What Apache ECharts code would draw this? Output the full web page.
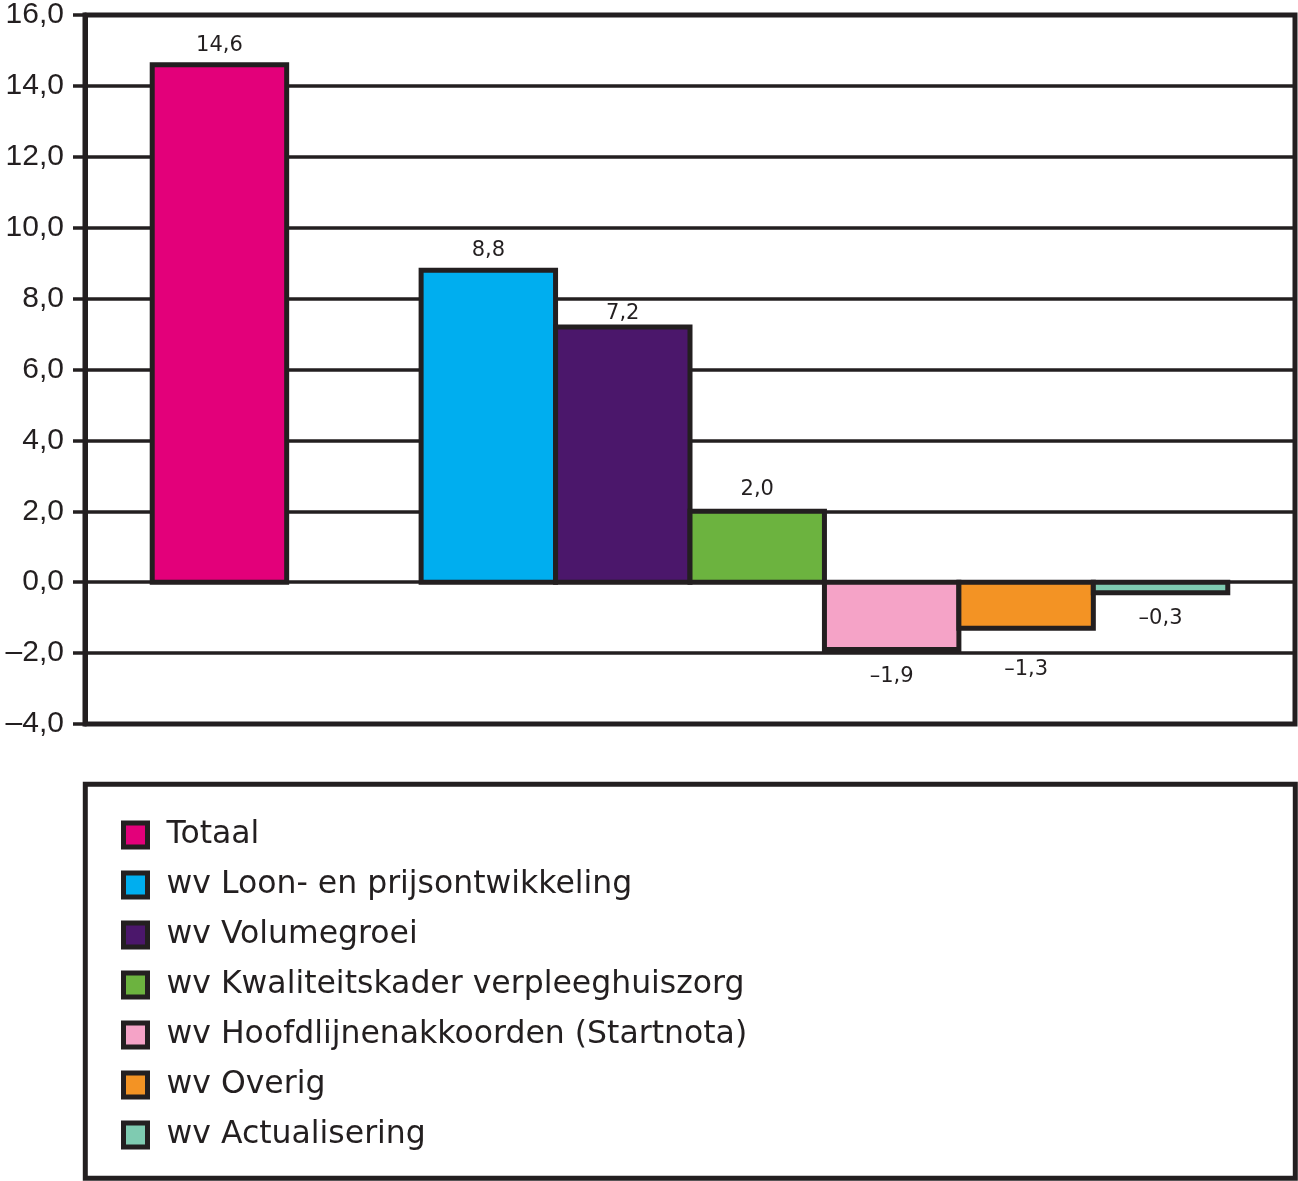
<!DOCTYPE html>
<html>
<head>
<meta charset="utf-8">
<script src="https://cdn.jsdelivr.net/npm/echarts@6/dist/echarts.min.js"></script>
<style>html,body{margin:0;padding:0;background:#fff}#c{width:1298px;height:1181px}</style>
</head>
<body>
<div id="c"></div>
<script>
// Slots on the category axis (empty slots keep the spacing of the original)
const slots = ['', 'Totaal', '', 'Loon', 'Volume', 'Kwaliteit', 'Hoofdlijn', 'Overig', 'Actualisering', ''];
const seriesNames = [
  'Totaal',
  'wv Loon- en prijsontwikkeling',
  'wv Volumegroei',
  'wv Kwaliteitskader verpleeghuiszorg',
  'wv Hoofdlijnenakkoorden (Startnota)',
  'wv Overig',
  'wv Actualisering'
];
const seriesSlot = [1, 3, 4, 5, 6, 7, 8];
const seriesValues = [14.6, 8.8, 7.2, 2.0, -1.9, -1.3, -0.3];
const seriesColors = ['#e3007a', '#00aeef', '#4b176b', '#6cb33f', '#f5a3c7', '#f39324', '#7fcbb1'];
const labelDistance = [6, 7, 0, 9, 14, 28, 13];
const yTicks = { min: -4, max: 16, interval: 2 };

const dark = '#231f20';
const fmt = v => v.toFixed(1).replace('.', ',').replace('-', '\u2013');

const series = seriesNames.map((name, i) => ({
  name,
  type: 'custom',
  data: [[seriesSlot[i], seriesValues[i]]],
  itemStyle: { color: seriesColors[i] },
  renderItem: (params, api) => {
    const idx = api.value(0);
    const v = api.value(1);
    const base = api.coord([idx, 0]);
    const end = api.coord([idx, v]);
    const w = api.size([1, 0])[0];
    return {
      type: 'rect',
      shape: {
        x: base[0] - w / 2,
        y: Math.min(base[1], end[1]),
        width: w,
        height: Math.abs(base[1] - end[1])
      },
      style: { fill: seriesColors[i], stroke: dark, lineWidth: 5 },
      textContent: {
        style: { text: fmt(v), font: '21px "DejaVu Sans"', fill: dark }
      },
      textConfig: { position: v >= 0 ? 'top' : 'bottom', distance: labelDistance[i] }
    };
  }
}));

const chart = echarts.init(document.getElementById('c'));
chart.setOption({
  animation: false,
  backgroundColor: '#fff',
  grid: { left: 85, right: 3, top: 15, bottom: 457, show: true, borderColor: dark, borderWidth: 5, backgroundColor: 'transparent' },
  xAxis: {
    type: 'category',
    data: slots,
    boundaryGap: false,
    axisLine: { show: false },
    axisTick: { show: false },
    axisLabel: { show: false },
    splitLine: { show: false }
  },
  yAxis: {
    type: 'value',
    min: yTicks.min,
    max: yTicks.max,
    interval: yTicks.interval,
    axisLine: { show: true, lineStyle: { color: dark, width: 5 } },
    axisTick: { show: true, length: 12, lineStyle: { color: dark, width: 3.5 } },
    axisLabel: {
      margin: 21,
      fontFamily: 'Liberation Sans, Arial, sans-serif',
      fontSize: 30,
      color: dark,
      formatter: v => fmt(v)
    },
    splitLine: { show: true, lineStyle: { color: dark, width: 3.5 } }
  },
  legend: {
    orient: 'vertical',
    left: 121,
    top: 819,
    padding: 0,
    itemWidth: 24,
    itemHeight: 24,
    itemGap: 18,
    icon: 'rect',
    itemStyle: { borderColor: dark, borderWidth: 5 },
    textStyle: {
      fontFamily: 'DejaVu Sans',
      fontSize: 31.5,
      lineHeight: 30,
      color: dark,
      padding: [0, 0, 0, 14]
    },
    selectedMode: false,
    data: seriesNames
  },
  graphic: [{
    type: 'rect',
    shape: { x: 85.3, y: 784.3, width: 1210, height: 394 },
    style: { fill: 'none', stroke: dark, lineWidth: 5 },
    z: -1
  }],
  series
});
</script>
</body>
</html>
